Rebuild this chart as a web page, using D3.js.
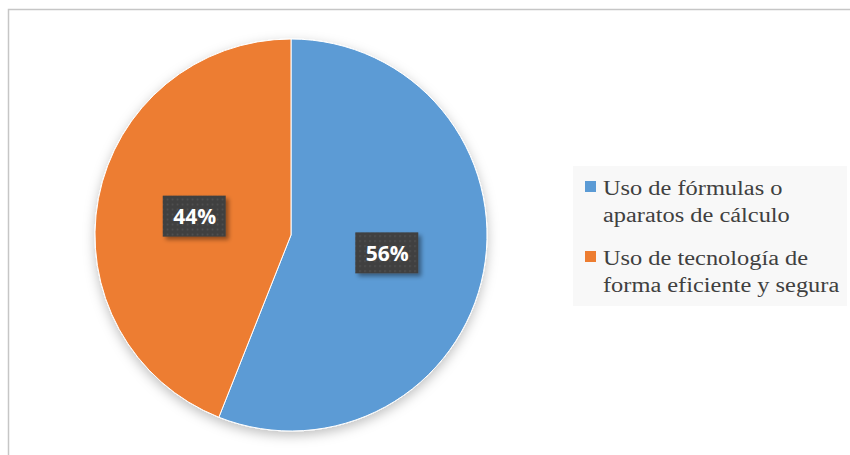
<!DOCTYPE html>
<html>
<head>
<meta charset="utf-8">
<script src="https://cdn.jsdelivr.net/npm/d3@7"></script>
<style>
body { margin: 0; background: #fff; }
</style>
</head>
<body>
<div class="container"></div>
<script>
const width = 850;
const height = 455;

const categories = ['Uso de fórmulas o aparatos de cálculo', 'Uso de tecnología de forma eficiente y segura'];
const legendLines = [['Uso de fórmulas o', 'aparatos de cálculo'], ['Uso de tecnología de', 'forma eficiente y segura']];
const values = [56, 44];
const colors = ['#5B9BD5', '#ED7D31'];

const cx = 291, cy = 235, radius = 196;

const svg = d3.select('.container')
    .append('svg')
    .attr('width', width)
    .attr('height', height);

const defs = svg.append('defs');

const pieShadow = defs.append('filter')
    .attr('id', 'pieShadow')
    .attr('x', '-20%').attr('y', '-20%').attr('width', '140%').attr('height', '140%');
pieShadow.append('feDropShadow')
    .attr('dx', 0).attr('dy', 4).attr('stdDeviation', 6)
    .attr('flood-color', '#000').attr('flood-opacity', 0.25);

const boxShadow = defs.append('filter')
    .attr('id', 'boxShadow')
    .attr('x', '-30%').attr('y', '-30%').attr('width', '160%').attr('height', '160%');
boxShadow.append('feDropShadow')
    .attr('dx', 3).attr('dy', 3).attr('stdDeviation', 2)
    .attr('flood-color', '#000').attr('flood-opacity', 0.4);

const dots = defs.append('pattern')
    .attr('id', 'dots')
    .attr('width', 5).attr('height', 5)
    .attr('patternUnits', 'userSpaceOnUse');
dots.append('rect').attr('width', 5).attr('height', 5).attr('fill', '#404040');
dots.append('rect').attr('x', 2).attr('y', 2).attr('width', 1.5).attr('height', 1.5).attr('fill', '#555');

// chart frame
svg.append('rect')
    .attr('x', 8.5).attr('y', 9.5)
    .attr('width', width).attr('height', height)
    .attr('fill', '#fff')
    .attr('stroke', '#c6c6c6')
    .attr('stroke-width', 1.5);

const pie = d3.pie().sort(null).value(d => d);
const arc = d3.arc().innerRadius(0).outerRadius(radius);
const arcs = pie(values);

const G = svg.append('g')
    .attr('transform', 'translate(' + cx + ',' + cy + ')');

G.append('g')
    .attr('filter', 'url(#pieShadow)')
    .selectAll('path')
    .data(arcs)
    .join('path')
    .attr('d', arc)
    .attr('fill', (d, i) => colors[i])
    .attr('stroke', '#fff')
    .attr('stroke-width', 1);

const labels = G.selectAll('g.label')
    .data(arcs)
    .join('g')
    .attr('class', 'label')
    .attr('transform', d => {
        const c = arc.centroid(d);
        return 'translate(' + c[0] + ',' + c[1] + ')';
    });

labels.append('rect')
    .attr('x', -32).attr('y', -21)
    .attr('width', 63).attr('height', 41)
    .attr('fill', 'url(#dots)')
    .attr('filter', 'url(#boxShadow)');

labels.append('text')
    .attr('text-anchor', 'middle')
    .attr('dy', '0.36em')
    .attr('fill', '#fff')
    .style('font-family', '"Open Sans", sans-serif')
    .style('font-weight', 'bold')
    .style('font-size', '21px')
    .text(d => d.data + '%');

// legend
const legend = svg.append('g');
legend.append('rect')
    .attr('x', 573).attr('y', 166)
    .attr('width', 274).attr('height', 140)
    .attr('fill', '#f8f8f8');

const items = legend.selectAll('g.item')
    .data(categories)
    .join('g')
    .attr('class', 'item')
    .attr('transform', (d, i) => 'translate(585,' + (181 + i * 70) + ')');

items.append('rect')
    .attr('width', 11).attr('height', 11)
    .attr('fill', (d, i) => colors[i]);

items.append('text')
    .attr('transform', 'translate(18,14) scale(1.19,1)')
    .attr('fill', '#404040')
    .style('font-family', '"Liberation Serif", serif')
    .style('font-size', '20.5px')
    .selectAll('tspan')
    .data((d, i) => legendLines[i])
    .join('tspan')
    .attr('x', 0)
    .attr('dy', (d, j) => j === 0 ? 0 : 27)
    .text(d => d);
</script>
</body>
</html>
